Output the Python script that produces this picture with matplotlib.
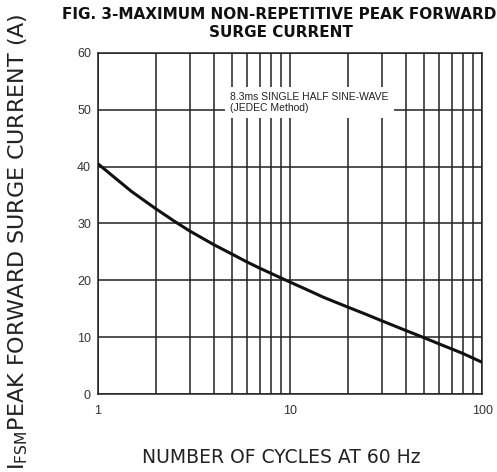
import matplotlib.pyplot as plt
from matplotlib.ticker import FixedLocator, NullFormatter

plt.rcParams['font.family'] = ['Liberation Sans', 'DejaVu Sans']

# Curva de corrente de surto
ciclos = [1, 1.25, 1.5, 2, 2.5, 3, 4, 5, 6, 7, 8, 10, 12, 15, 20, 25, 30, 40, 50, 60, 70, 80, 100]
corrente = [40.5, 37.8, 35.6, 32.6, 30.4, 28.7, 26.3, 24.6, 23.2, 22.1, 21.2, 19.7,
            18.5, 17.0, 15.3, 14.0, 12.9, 11.2, 9.9, 8.8, 7.9, 7.1, 5.6]

yticks = [0, 10, 20, 30, 40, 50, 60]
xticks = [1, 10, 100]
xtick_labels = ['1', '10', '100']

fig = plt.figure(figsize=(4.97, 4.72), dpi=100)
ax = fig.add_axes([0.197, 0.165, 0.773, 0.723])

ax.plot(ciclos, corrente, color='#111111', lw=2.2, zorder=3)

ax.set_xscale('log')
ax.set_xlim(1, 100)
ax.set_ylim(0, 60)
ax.set_xticks(xticks)
ax.set_xticklabels(xtick_labels)
ax.xaxis.set_minor_locator(FixedLocator([2, 3, 4, 5, 6, 7, 8, 9, 20, 30, 40, 50, 60, 70, 80, 90]))
ax.xaxis.set_minor_formatter(NullFormatter())
ax.set_yticks(yticks)
ax.tick_params(which='both', length=0, labelsize=9, colors='#333333')
ax.tick_params(axis='x', pad=8)
ax.tick_params(axis='y', pad=5)
ax.grid(True, which='both', color='#222222', lw=1.1)
for s in ax.spines.values():
    s.set_color('#222222')
    s.set_linewidth(1.1)

ax.text(0.344, 0.885, "8.3ms SINGLE HALF SINE-WAVE\n(JEDEC Method)",
        transform=ax.transAxes, fontsize=7.5, color='#222222', ha='left', va='top',
        linespacing=1.05, zorder=4,
        bbox=dict(facecolor='white', edgecolor='none', pad=4))

fig.text(0.125, 0.985, "FIG. 3-MAXIMUM NON-REPETITIVE PEAK FORWARD", fontsize=11,
         fontweight='bold', family='DejaVu Sans', ha='left', va='top', color='#111111')
fig.text(0.566, 0.948, "SURGE CURRENT", fontsize=11, fontweight='bold',
         family='DejaVu Sans', ha='center', va='top', color='#111111')

fig.text(0.566, 0.030, "NUMBER OF CYCLES AT 60 Hz", fontsize=13.5, family='DejaVu Sans',
         ha='center', va='center', color='#222222')
fig.text(0.036, 0.004, r"I$_{\mathregular{FSM}}$PEAK FORWARD SURGE CURRENT (A)",
         fontsize=16, family='DejaVu Sans', rotation=90, ha='center', va='bottom',
         color='#222222')

fig.savefig('out.png', dpi=100)
